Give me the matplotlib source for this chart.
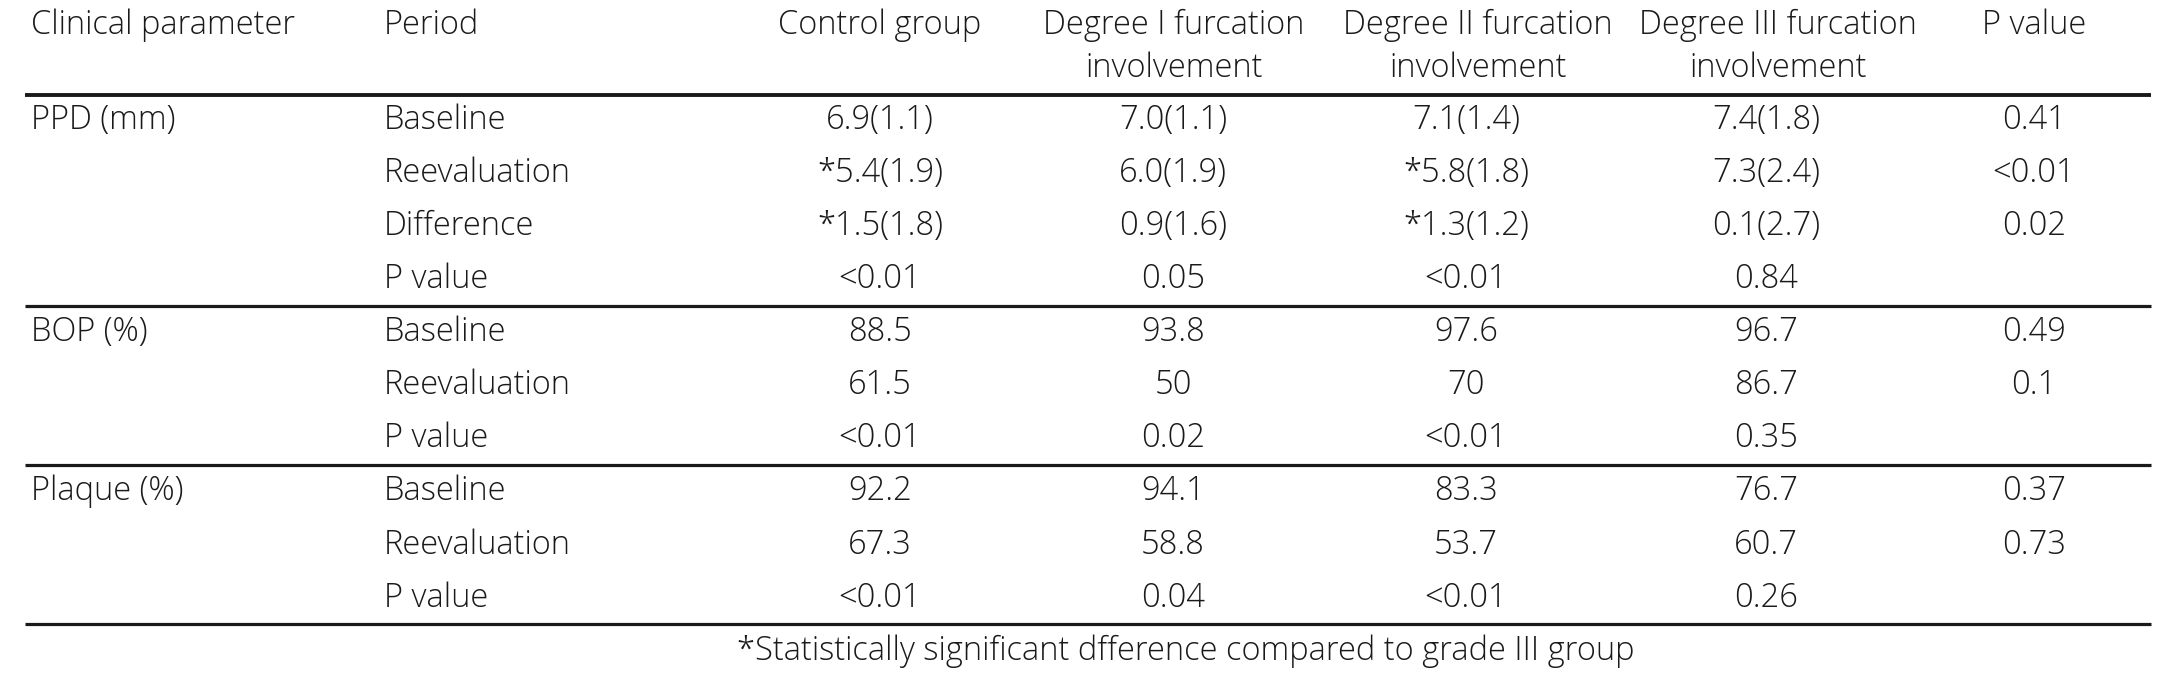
import matplotlib
matplotlib.use("Agg")
import matplotlib.pyplot as plt

# ---- data ----
headers = ["Clinical parameter", "Period", "Control group",
           "Degree I furcation\ninvolvement", "Degree II furcation\ninvolvement",
           "Degree III furcation\ninvolvement", "P value"]
parameters = ["PPD (mm)", "BOP (%)", "Plaque (%)"]
periods = [
    ["Baseline", "Reevaluation", "Difference", "P value"],
    ["Baseline", "Reevaluation", "P value"],
    ["Baseline", "Reevaluation", "P value"],
]
control = ["6.9(1.1)", "*5.4(1.9)", "*1.5(1.8)", "<0.01",
           "88.5", "61.5", "<0.01",
           "92.2", "67.3", "<0.01"]
degree1 = ["7.0(1.1)", "6.0(1.9)", "0.9(1.6)", "0.05",
           "93.8", "50", "0.02",
           "94.1", "58.8", "0.04"]
degree2 = ["7.1(1.4)", "*5.8(1.8)", "*1.3(1.2)", "<0.01",
           "97.6", "70", "<0.01",
           "83.3", "53.7", "<0.01"]
degree3 = ["7.4(1.8)", "7.3(2.4)", "0.1(2.7)", "0.84",
           "96.7", "86.7", "0.35",
           "76.7", "60.7", "0.26"]
pvalues = ["0.41", "<0.01", "0.02", "",
           "0.49", "0.1", "",
           "0.37", "0.73", ""]
footnote = "*Statistically significant dfference compared to grade III group"

# ---- layout ----
W, H = 2168, 685
fig = plt.figure(figsize=(W / 100, H / 100), dpi=100)
ax = fig.add_axes([0, 0, 1, 1])
ax.set_xlim(0, W)
ax.set_ylim(H, 0)
ax.axis("off")

FONT = "Open Sans"
FS = 23.5
COLOR = "#1a1a1a"

x_param = 31
x_period = 384
x_cols = [880, 1173, 1466, 1766, 2034]
x_heads = [880, 1174, 1478, 1778, 2034]
x_line0, x_line1 = 25, 2151
row0 = 120
dy = 53.1
head_y = [25, 68]

kw = dict(fontsize=FS, family=FONT, color=COLOR, fontweight="light")

# header
ax.text(x_param, head_y[0], headers[0], ha="left", va="center", **kw)
ax.text(x_period, head_y[0], headers[1], ha="left", va="center", **kw)
for xc, h in zip(x_heads, headers[2:]):
    for li, line in enumerate(h.split("\n")):
        ax.text(xc, head_y[li], line, ha="center", va="center", **kw)

ax.plot([x_line0, x_line1], [95, 95], color=COLOR, lw=2.8,
        solid_capstyle="butt")

cols = [control, degree1, degree2, degree3, pvalues]
r = 0
for gi, (p, pers) in enumerate(zip(parameters, periods)):
    y_first = row0 + r * dy
    ax.text(x_param, y_first, p, ha="left", va="center", **kw)
    for per in pers:
        y = row0 + r * dy
        ax.text(x_period, y, per, ha="left", va="center", **kw)
        for xc, col in zip(x_cols, cols):
            if col[r]:
                ax.text(xc, y, col[r], ha="center", va="center", **kw)
        r += 1
    y_line = row0 + (r - 0.5) * dy
    ax.plot([x_line0, x_line1], [y_line, y_line], color=COLOR, lw=2.3,
            solid_capstyle="butt")

ax.text(1186, 651, footnote, ha="center", va="center", **kw)

fig.savefig("out.png", dpi=100, facecolor="white")
